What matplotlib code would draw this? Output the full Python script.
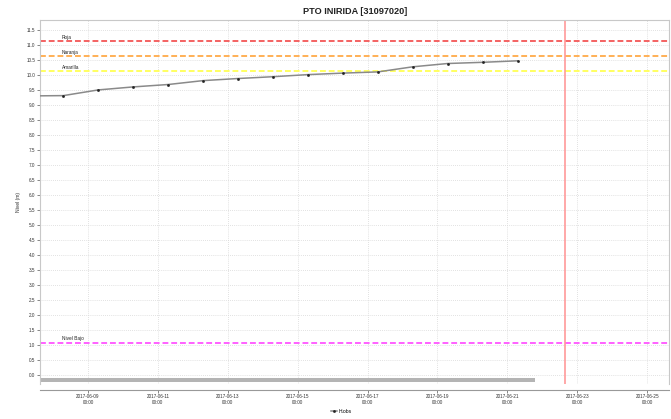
import matplotlib
matplotlib.use('Agg')
import matplotlib.pyplot as plt
import matplotlib.dates as mdates
import pandas as pd

plt.rcParams['font.family'] = ['Liberation Sans', 'DejaVu Sans']

# observed levels, one reading per day at 07:00
obs_times = pd.date_range('2017-06-07 07:00', '2017-06-21 07:00', freq='D')
obs_levels = [9.30, 9.31, 9.50, 9.60, 9.68, 9.81, 9.88, 9.94, 10.01, 10.06,
              10.10, 10.27, 10.38, 10.42, 10.47]

# alert thresholds
alert_names = ['Roja', 'Naranja', 'Amarilla', 'Nivel Bajo']
alert_levels = [11.14, 10.64, 10.14, 1.08]
alert_colors = ['#f46262', '#ffb056', '#ffff60', '#ff60ff']

now_time = pd.Timestamp('2017-06-22 15:20')
x_start = pd.Timestamp('2017-06-07 15:00')
x_end = pd.Timestamp('2017-06-25 15:00')

fig = plt.figure(figsize=(6.71, 4.19), dpi=100)
W, H = 671, 419
ax = fig.add_axes([40 / W, 1 - 384 / H, 629 / W, 364 / H])

for name, lvl, col in zip(alert_names, alert_levels, alert_colors):
    ax.axhline(lvl, color=col, lw=1.4, ls=(0, (3, 1.5)), zorder=2)
    ax.text(0.035, lvl + 0.04, name, transform=ax.get_yaxis_transform(),
            fontsize=3.4, color='#222222', va='bottom', ha='left', zorder=4)

ax.axvline(now_time, color='#ff9a9a', lw=1.2, zorder=2)

ax.plot(obs_times, obs_levels, color='#8a8a8a', lw=1.1, marker='s',
        markersize=0.9, markerfacecolor='#222222', markeredgecolor='#222222',
        label='H.obs', zorder=3)

# scroll bar under the data
ax.axhspan(-0.23, -0.10, xmin=0, xmax=0.787, color='#b4b4b4', lw=0, zorder=1)

ax.set_xlim(x_start, x_end)
ax.set_ylim(-0.3, 11.83)
ax.set_yticks([i * 0.5 for i in range(24)])
ax.yaxis.set_major_formatter(matplotlib.ticker.FormatStrFormatter('%.1f'))
ax.xaxis.set_major_locator(mdates.DayLocator(bymonthday=range(9, 26, 2)))
ax.xaxis.set_major_formatter(mdates.DateFormatter('%Y-%m-%d\n%H:%M'))

ax.grid(True, color='#d8d8d8', ls=(0, (1, 1.5)), lw=0.6)
ax.set_axisbelow(True)
ax.tick_params(labelsize=3.3, colors='#555555', labelcolor='#333333',
               length=2, width=0.5, pad=1.5)
for s in ['top', 'right', 'left']:
    ax.spines[s].set_color('#c8c8c8')
    ax.spines[s].set_linewidth(0.8)
ax.spines['bottom'].set_position(('outward', 4))
ax.spines['bottom'].set_color('#999999')
ax.spines['bottom'].set_linewidth(0.8)

ax.set_ylabel('Nivel (m)', fontsize=3.6, color='#333333', labelpad=4)
fig.text(355 / W, 1 - 11 / H, 'PTO INIRIDA [31097020]', fontsize=6.6,
         fontweight='bold', ha='center', va='center', color='#222222')

fig.legend(loc='center', bbox_to_anchor=(341 / W, 1 - 411 / H), fontsize=3.6,
           frameon=False, handlelength=1.2, handletextpad=0.3)

fig.savefig('out.png', dpi=100, facecolor='white')
